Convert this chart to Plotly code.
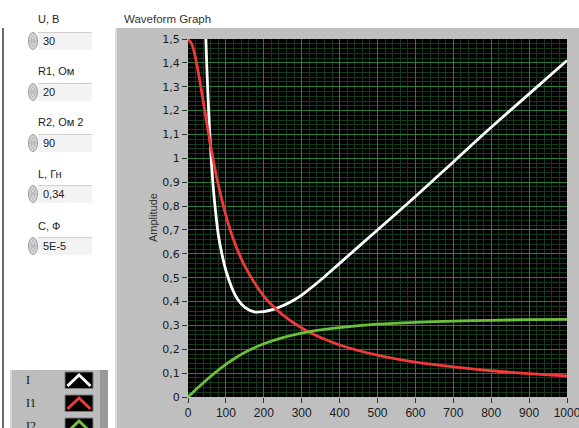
import plotly.graph_objects as go

# ---------------- data ----------------
omega_1 = [0, 10, 20, 30, 40, 50, 60, 70, 80, 100, 120, 150, 200, 250, 300, 350,
           400, 500, 600, 700, 800, 900, 1000]
I1 = [1.5, 1.479, 1.420, 1.336, 1.240, 1.143, 1.050, 0.965, 0.889, 0.761, 0.660,
      0.548, 0.423, 0.344, 0.289, 0.249, 0.218, 0.175, 0.146, 0.126, 0.110, 0.098, 0.088]

omega_2 = [0, 10, 20, 40, 60, 80, 100, 120, 150, 200, 250, 300, 350, 400, 500, 600,
           700, 800, 900, 1000]
I2 = [0, 0.015, 0.030, 0.059, 0.087, 0.113, 0.137, 0.158, 0.187, 0.223, 0.249, 0.268,
      0.281, 0.291, 0.305, 0.313, 0.318, 0.321, 0.324, 0.325]

omega_t = [40, 45, 47, 50, 55, 60, 65, 70, 80, 90, 100, 115, 130, 150, 175, 200, 225,
           250, 275, 300, 350, 400, 450, 500, 600, 700, 800, 900, 1000]
I_tot = [1.95, 1.63, 1.51, 1.37, 1.18, 1.03, 0.91, 0.82, 0.68, 0.595, 0.53, 0.46,
         0.412, 0.376, 0.357, 0.358, 0.367, 0.382, 0.402, 0.427, 0.49, 0.56, 0.63, 0.70,
         0.84, 0.985, 1.13, 1.27, 1.41]

series_names = ["I", "I1", "I2"]
series_colors = ["#ffffff", "#ee3a3a", "#6cbf3a"]

control_labels = ["U, В", "R1, Ом", "R2, Ом 2", "L, Гн", "C, Ф"]
control_values = ["30", "20", "90", "0,34", "5E-5"]

x_ticks = [0, 100, 200, 300, 400, 500, 600, 700, 800, 900, 1000]
y_ticks = [0, 0.1, 0.2, 0.3, 0.4, 0.5, 0.6, 0.7, 0.8, 0.9, 1.0, 1.1, 1.2, 1.3, 1.4, 1.5]

# ---------------- geometry (pixels) ----------------
W, H = 579, 428
PL, PR, PT, PB = 188, 567, 39, 397


def fx(px):
    return (px - PL) / (PR - PL)


def fy(py):
    return (PB - py) / (PB - PT)


fig = go.Figure()
xs_list = [omega_t, omega_1, omega_2]
ys_list = [I_tot, I1, I2]
for name, col, xs, ys in zip(series_names, series_colors, xs_list, ys_list):
    fig.add_trace(go.Scatter(x=xs, y=ys, mode="lines", name=name,
                             line=dict(color=col, width=2.8, shape="spline", smoothing=0.8),
                             showlegend=False, hoverinfo="skip"))

shapes = []
# left dark line
shapes.append(dict(type="rect", xref="paper", yref="paper", x0=fx(2), x1=fx(4),
                   y0=fy(428), y1=fy(28), fillcolor="#6a6a6a", line=dict(width=0), layer="below"))
# graph panel
shapes.append(dict(type="rect", xref="paper", yref="paper", x0=fx(115), x1=fx(579),
                   y0=fy(428), y1=fy(28), fillcolor="#bfbfbf", line=dict(width=0), layer="below"))
shapes.append(dict(type="rect", xref="paper", yref="paper", x0=fx(115), x1=fx(117),
                   y0=fy(428), y1=fy(28), fillcolor="#dcdcdc", line=dict(width=0), layer="below"))
# plot area
shapes.append(dict(type="rect", xref="paper", yref="paper", x0=0, x1=1, y0=0, y1=1,
                   fillcolor="#000000", line=dict(width=0), layer="below"))

annotations = []
# title
annotations.append(dict(text="Waveform Graph", x=fx(122), y=fy(19), xref="paper", yref="paper",
                        xanchor="left", yanchor="middle", showarrow=False,
                        font=dict(family="Liberation Sans", size=11.5, color="#333333")))
# y axis title
annotations.append(dict(text="Amplitude", x=fx(153), y=fy(218), xref="paper", yref="paper",
                        xanchor="center", yanchor="middle", showarrow=False, textangle=-90,
                        font=dict(family="Liberation Sans", size=11, color="#333333")))
# x axis title (mostly cut off at bottom edge, as in the reference)
annotations.append(dict(text="Time", x=fx(377), y=fy(424), xref="paper", yref="paper",
                        xanchor="center", yanchor="top", showarrow=False,
                        font=dict(family="Liberation Sans", size=11, color="#333333")))

# numeric controls
label_y = [19, 71, 122, 174, 226]
value_y = [41, 92, 143, 194, 246]
for lab, val, ly, vy in zip(control_labels, control_values, label_y, value_y):
    annotations.append(dict(text=lab, x=fx(36), y=fy(ly), xref="paper", yref="paper",
                            xanchor="left", yanchor="middle", showarrow=False,
                            font=dict(family="Liberation Sans", size=11, color="#222222")))
    shapes.append(dict(type="rect", xref="paper", yref="paper", x0=fx(38), x1=fx(92),
                       y0=fy(vy + 9), y1=fy(vy - 9), fillcolor="#f3f3f3",
                       line=dict(width=0), layer="below"))
    shapes.append(dict(type="rect", xref="paper", yref="paper", x0=fx(38), x1=fx(92),
                       y0=fy(vy - 8), y1=fy(vy - 9), fillcolor="#cfcfcf",
                       line=dict(width=0), layer="below"))
    shapes.append(dict(type="circle", xref="paper", yref="paper", x0=fx(28.5), x1=fx(37.5),
                       y0=fy(vy + 8.5), y1=fy(vy - 8.5), fillcolor="#d2d2d2",
                       line=dict(color="#9c9c9c", width=1), layer="below"))
    shapes.append(dict(type="line", xref="paper", yref="paper", x0=fx(29.5), x1=fx(36.5),
                       y0=fy(vy), y1=fy(vy), line=dict(color="#a8a8a8", width=1), layer="below"))
    for sgn in (-1, 1):
        tri = "M {},{} L {},{} L {},{} Z".format(fx(31), fy(vy + sgn * 2), fx(35), fy(vy + sgn * 2),
                                                fx(33), fy(vy + sgn * 5))
        shapes.append(dict(type="path", xref="paper", yref="paper", path=tri,
                           fillcolor="#f2f2f2", line=dict(color="#9a9a9a", width=0.6), layer="below"))
    annotations.append(dict(text=val, x=fx(41), y=fy(vy), xref="paper", yref="paper",
                            xanchor="left", yanchor="middle", showarrow=False,
                            font=dict(family="Liberation Sans", size=11, color="#222222")))

# legend box
shapes.append(dict(type="rect", xref="paper", yref="paper", x0=fx(10), x1=fx(108),
                   y0=fy(430), y1=fy(370), fillcolor="#bdbdbd", line=dict(width=0), layer="below"))
shapes.append(dict(type="rect", xref="paper", yref="paper", x0=fx(10), x1=fx(12),
                   y0=fy(430), y1=fy(370), fillcolor="#d6d6d6", line=dict(width=0), layer="below"))
shapes.append(dict(type="rect", xref="paper", yref="paper", x0=fx(100), x1=fx(108),
                   y0=fy(430), y1=fy(370), fillcolor="#9a9a9a", line=dict(width=0), layer="below"))
entry_y = [380, 403, 426]
for name, col, ey in zip(series_names, series_colors, entry_y):
    annotations.append(dict(text=name, x=fx(24), y=fy(ey), xref="paper", yref="paper",
                            xanchor="left", yanchor="middle", showarrow=False,
                            font=dict(family="Liberation Serif", size=12, color="#111111")))
    shapes.append(dict(type="rect", xref="paper", yref="paper", x0=fx(65), x1=fx(93),
                       y0=fy(ey + 8.5), y1=fy(ey - 8), fillcolor="#000000",
                       line=dict(color="#7a7a7a", width=1), layer="below"))
    path = "M {},{} L {},{} L {},{}".format(fx(67.5), fy(ey + 6), fx(79), fy(ey - 5),
                                             fx(90.5), fy(ey + 6))
    shapes.append(dict(type="path", xref="paper", yref="paper", path=path,
                       line=dict(color=col, width=3), layer="below"))

tick_font = dict(family="DejaVu Sans", size=11, color="#1a1a1a")
xtick_font = dict(family="Liberation Sans", size=12, color="#1a1a1a")
fig.update_layout(
    width=W, height=H,
    margin=dict(l=PL, r=W - PR, t=PT, b=H - PB, pad=0, autoexpand=False),
    paper_bgcolor="#ffffff",
    plot_bgcolor="#000000",
    separators=", ",
    shapes=shapes,
    annotations=annotations,
    showlegend=False,
    xaxis=dict(range=[0, 1000], tickvals=x_ticks, showgrid=True, gridcolor="#2a7d3f",
               gridwidth=1, zeroline=False, ticks="outside", ticklen=5, tickcolor="#333333",
               tickfont=xtick_font, showline=False, ticklabeloverflow="allow", automargin=False,
               minor=dict(dtick=20, showgrid=True, gridcolor="#143a1b", gridwidth=1)),
    yaxis=dict(range=[0, 1.5], tickvals=y_ticks, showgrid=True, gridcolor="#2a7d3f",
               gridwidth=1, zeroline=False, ticks="outside", ticklen=5, tickcolor="#333333",
               tickfont=tick_font, showline=False, automargin=False,
               minor=dict(dtick=0.02, showgrid=True, gridcolor="#143a1b", gridwidth=1)),
)

fig.write_html("out.html")
